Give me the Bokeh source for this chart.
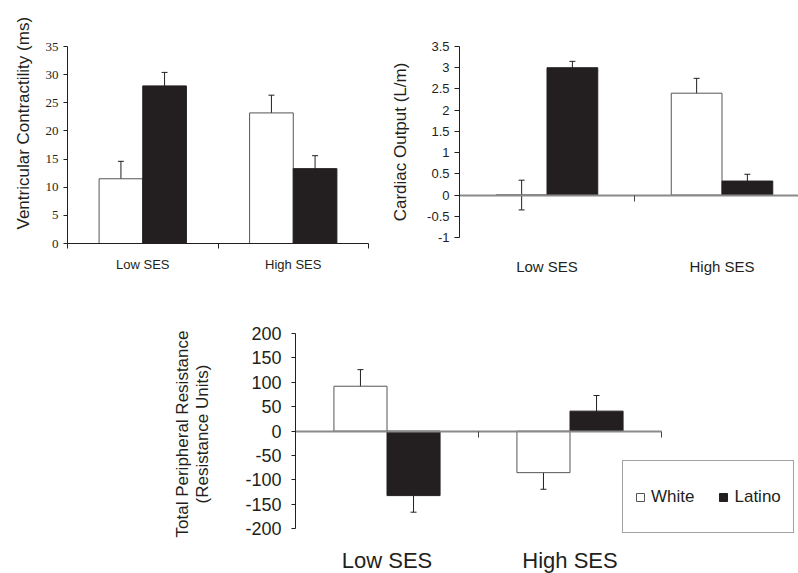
from bokeh.plotting import figure
from bokeh.models import (Range1d, FixedTicker, LinearAxis, Whisker, TeeHead,
                          Legend, LegendItem, ColumnDataSource, Title)
from bokeh.layouts import column, row
from bokeh.embed import file_html
from bokeh.resources import INLINE

# ---------------- data ----------------
categories = ["Low SES", "High SES"]
groups = ["White", "Latino"]

vc_white = [11.5, 23.2]
vc_white_err = [3.1, 3.15]
vc_latino = [28.0, 13.3]
vc_latino_err = [2.4, 2.3]
vc_ticks = [0, 5, 10, 15, 20, 25, 30, 35]

co_white = [0.0, 2.4]
co_white_err = [0.35, 0.35]
co_latino = [3.0, 0.33]
co_latino_err = [0.15, 0.16]
co_ticks = [-1, -0.5, 0, 0.5, 1, 1.5, 2, 2.5, 3, 3.5]

tpr_white = [92, -85]
tpr_white_err = [34, 34]
tpr_latino = [-132, 41]
tpr_latino_err = [34, 32]
tpr_ticks = [-200, -150, -100, -50, 0, 50, 100, 150, 200]

# ---------------- style ----------------
INK = "#231f20"
EDGE = "#555555"
ZERO = "#8a8a8a"
SANS = "Liberation Sans"
SERIF = "Liberation Serif"
BAR_W = 0.29
centers = [i + 0.5 for i in range(len(categories))]
bounds_ticks = [float(i) for i in range(len(categories) + 1)]


def base_fig(fw, fh, xr, yr, left, right, top, bottom):
    p = figure(frame_width=fw, frame_height=fh,
               x_range=Range1d(*xr), y_range=Range1d(*yr),
               output_backend="svg", toolbar_location=None,
               min_border_left=left, min_border_right=right,
               min_border_top=top, min_border_bottom=bottom)
    p.grid.visible = False
    p.outline_line_color = None
    p.background_fill_color = "white"
    p.border_fill_color = "white"
    return p


def add_bars(p, white, werr, latino, lerr):
    xw = [c - BAR_W / 2 for c in centers]
    xl = [c + BAR_W / 2 for c in centers]
    sw = ColumnDataSource(dict(x=xw, top=white,
                               up=[v + e for v, e in zip(white, werr)],
                               lo=[v - e for v, e in zip(white, werr)]))
    sl = ColumnDataSource(dict(x=xl, top=latino,
                               up=[v + e for v, e in zip(latino, lerr)],
                               lo=[v - e for v, e in zip(latino, lerr)]))
    rw = p.vbar(x="x", top="top", bottom=0, width=BAR_W, source=sw,
                fill_color="white", line_color=EDGE, line_width=1)
    rl = p.vbar(x="x", top="top", bottom=0, width=BAR_W, source=sl,
                fill_color=INK, line_color=INK, line_width=1)
    for s in (sw, sl):
        w = Whisker(base="x", upper="up", lower="lo", source=s,
                    dimension="height", line_color=INK, line_width=1,
                    upper_head=TeeHead(size=6, line_color=INK, line_width=1),
                    lower_head=TeeHead(size=6, line_color=INK, line_width=1))
        p.add_layout(w)
    return rw, rl


def style_y(ax, ticks, font, size, standoff, tick_out=4):
    ax.ticker = FixedTicker(ticks=ticks)
    ax.major_label_overrides = {t: f"{t:g}" for t in ticks}
    ax.bounds = (ticks[0], ticks[-1])
    ax.major_tick_out = tick_out
    ax.major_tick_in = 0
    ax.minor_tick_line_color = None
    ax.axis_line_color = INK
    ax.major_tick_line_color = INK
    ax.major_label_text_font = font
    ax.major_label_text_font_size = size
    ax.major_label_text_color = INK
    ax.major_label_standoff = standoff
    ax.axis_label_text_font = SANS
    ax.axis_label_text_font_style = "normal"
    ax.axis_label_text_color = INK


def style_cat_x(ax, size, standoff, line=True, minor=True):
    ax.ticker = FixedTicker(ticks=centers, minor_ticks=bounds_ticks if minor else [])
    ax.major_label_overrides = {c: n for c, n in zip(centers, categories)}
    ax.major_tick_line_color = None
    ax.major_tick_out = 0
    ax.major_tick_in = 0
    ax.minor_tick_out = 5
    ax.minor_tick_in = 0
    ax.minor_tick_line_color = INK
    ax.axis_line_color = INK if line else None
    ax.major_label_text_font = SANS
    ax.major_label_text_font_size = size
    ax.major_label_text_color = INK
    ax.major_label_standoff = standoff


def zero_axis(minor, bounds):
    z = LinearAxis(fixed_location=0, bounds=bounds,
                   ticker=FixedTicker(ticks=[], minor_ticks=minor))
    z.axis_line_color = ZERO
    z.axis_line_width = 2
    z.major_tick_line_color = None
    z.minor_tick_line_color = "#444444"
    z.minor_tick_in = 6
    z.minor_tick_out = 0
    z.major_label_text_font_size = "0px"
    z.major_label_standoff = 0
    return z


# ---------------- chart 1 ----------------
p1 = base_fig(301, 197, (0, 2), (vc_ticks[0], vc_ticks[-1]), 67, 10, 44, 49)
add_bars(p1, vc_white, vc_white_err, vc_latino, vc_latino_err)
style_y(p1.yaxis[0], vc_ticks, SERIF, "13px", 5)
style_cat_x(p1.xaxis[0], "13px", 8)
t1 = Title(text="Ventricular Contractility (ms)", align="left", offset=14,
           text_font=SANS, text_font_size="17px", text_font_style="normal",
           text_color=INK, standoff=20)
p1.add_layout(t1, "left")

# ---------------- chart 2 ----------------
p2 = base_fig(339, 191, (0, 339 / 175), (co_ticks[0], co_ticks[-1]), 81, 0, 46, 53)
add_bars(p2, co_white, co_white_err, co_latino, co_latino_err)
style_y(p2.yaxis[0], co_ticks, SANS, "13px", 5, tick_out=5)
p2.yaxis[0].axis_label = "Cardiac Output (L/m)"
p2.yaxis[0].axis_label_text_font_size = "17px"
p2.yaxis[0].axis_label_standoff = 14
style_cat_x(p2.xaxis[0], "15px", 20, line=False, minor=False)
p2.add_layout(zero_axis([1.0], "auto"), "above")

# ---------------- chart 3 ----------------
tpr_px_per_unit = 195.3 / 400
p3_frame_h = 201
p3 = base_fig(503, p3_frame_h, (0, 503 / 183),
              (tpr_ticks[-1] - p3_frame_h / tpr_px_per_unit, tpr_ticks[-1]),
              295, 0, 43, 39)
rw, rl = add_bars(p3, tpr_white, tpr_white_err, tpr_latino, tpr_latino_err)
style_y(p3.yaxis[0], tpr_ticks, SANS, "18px", 10)
p3.yaxis[0].axis_label = "Total Peripheral Resistance\n(Resistance Units)"
p3.yaxis[0].axis_label_text_font_size = "17px"
p3.yaxis[0].axis_label_text_line_height = 1.1
p3.yaxis[0].axis_label_standoff = 30
style_cat_x(p3.xaxis[0], "22px", 13, line=False, minor=False)
p3.add_layout(zero_axis([1.0, 2.0], (0, 2)), "above")

legend = Legend(items=[LegendItem(label=groups[0], renderers=[rw]),
                       LegendItem(label=groups[1], renderers=[rl])],
                orientation="horizontal", location=(327, 1),
                padding=12, spacing=24, glyph_width=10, glyph_height=10,
                label_standoff=6, label_text_font=SANS,
                label_text_font_size="17px", label_text_color=INK,
                label_height=47, border_line_color="#444444",
                border_line_width=1, background_fill_alpha=1.0, margin=0)
p3.add_layout(legend, "center")

layout = column(row(p1, p2), p3)
open("out.html", "w").write(file_html(layout, INLINE))
